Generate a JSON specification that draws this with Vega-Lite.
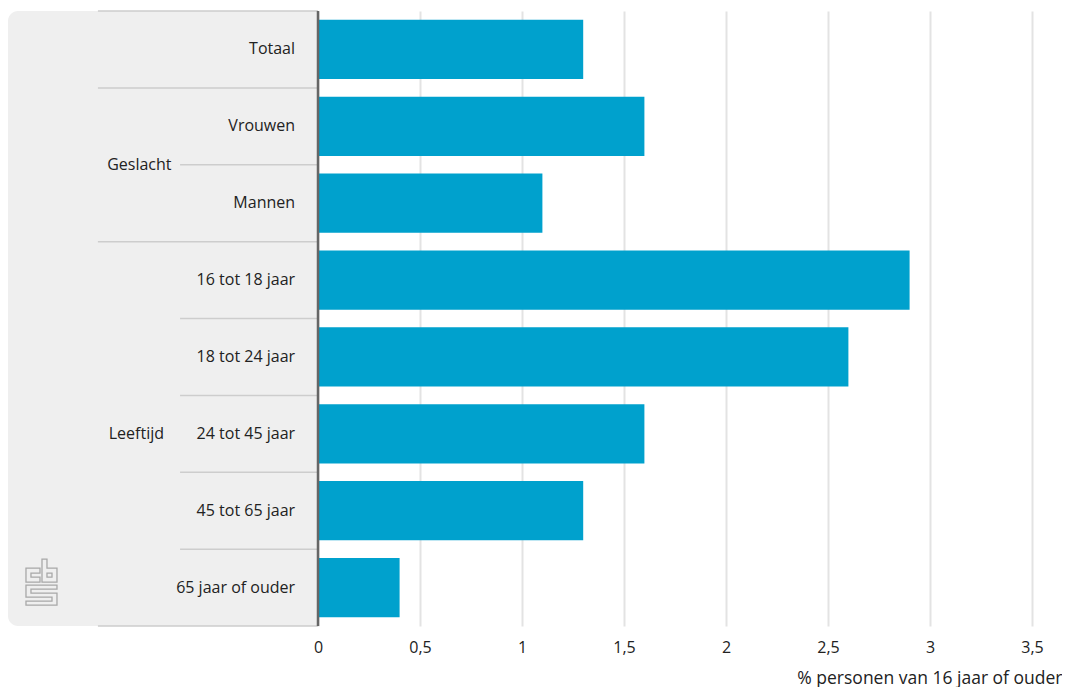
{
  "$schema": "https://vega.github.io/schema/vega-lite/v6.json",
  "autosize": {"type": "pad"},
  "bounds": "flush",
  "padding": {"left": 8, "top": 9, "right": 0, "bottom": 0},
  "config": {"view": {"stroke": null}, "font": "Open Sans", "text": {"font": "Open Sans"}},
  "datasets": {
    "rows": [
      {"group": "Totaal", "cat": "Totaal", "value": 1.3},
      {"group": "Geslacht", "cat": "Vrouwen", "value": 1.6},
      {"group": "Geslacht", "cat": "Mannen", "value": 1.1},
      {"group": "Leeftijd", "cat": "16 tot 18 jaar", "value": 2.9},
      {"group": "Leeftijd", "cat": "18 tot 24 jaar", "value": 2.6},
      {"group": "Leeftijd", "cat": "24 tot 45 jaar", "value": 1.6},
      {"group": "Leeftijd", "cat": "45 tot 65 jaar", "value": 1.3},
      {"group": "Leeftijd", "cat": "65 jaar of ouder", "value": 0.4}
    ]
  },
  "spacing": 0,
  "resolve": {"scale": {"y": "independent", "x": "independent"}},
  "hconcat": [
    {
      "width": 310,
      "height": 615,
      "data": {"name": "rows"},
      "transform": [{"window": [{"op": "row_number", "as": "rank"}], "groupby": ["group"]}],
      "layer": [
        {
          "data": {"values": [{}]},
          "mark": {"type": "rect", "fill": "#efefef", "cornerRadiusTopLeft": 10, "cornerRadiusBottomLeft": 10},
          "encoding": {
            "x": {"datum": 0, "type": "quantitative", "scale": {"domain": [0, 1], "nice": false, "zero": false}, "axis": null},
            "x2": {"datum": 1}
          }
        },
        {
          "transform": [{"filter": "datum.rank == 1"}],
          "mark": {"type": "rule", "color": "#cdcdcd", "strokeWidth": 1.5},
          "encoding": {
            "y": {"field": "cat", "type": "nominal", "bandPosition": 0, "sort": ["Totaal", "Vrouwen", "Mannen", "16 tot 18 jaar", "18 tot 24 jaar", "24 tot 45 jaar", "45 tot 65 jaar", "65 jaar of ouder"], "scale": {"paddingInner": 0, "paddingOuter": 0}, "axis": null},
            "x": {"datum": 0.29, "type": "quantitative"},
            "x2": {"datum": 1}
          }
        },
        {
          "transform": [{"filter": "datum.rank > 1"}],
          "mark": {"type": "rule", "color": "#cdcdcd", "strokeWidth": 1.5},
          "encoding": {
            "y": {"field": "cat", "type": "nominal", "bandPosition": 0, "sort": ["Totaal", "Vrouwen", "Mannen", "16 tot 18 jaar", "18 tot 24 jaar", "24 tot 45 jaar", "45 tot 65 jaar", "65 jaar of ouder"], "axis": null},
            "x": {"datum": 0.555, "type": "quantitative"},
            "x2": {"datum": 1}
          }
        },
        {
          "transform": [{"filter": "datum.cat == '65 jaar of ouder'"}],
          "mark": {"type": "rule", "color": "#cdcdcd", "strokeWidth": 1.5},
          "encoding": {
            "y": {"field": "cat", "type": "nominal", "bandPosition": 1, "sort": ["Totaal", "Vrouwen", "Mannen", "16 tot 18 jaar", "18 tot 24 jaar", "24 tot 45 jaar", "45 tot 65 jaar", "65 jaar of ouder"], "axis": null},
            "x": {"datum": 0.29, "type": "quantitative"},
            "x2": {"datum": 1}
          }
        },
        {
          "mark": {"type": "text", "align": "right", "baseline": "middle", "fontSize": 16, "color": "#222"},
          "encoding": {
            "y": {"field": "cat", "type": "nominal", "sort": ["Totaal", "Vrouwen", "Mannen", "16 tot 18 jaar", "18 tot 24 jaar", "24 tot 45 jaar", "45 tot 65 jaar", "65 jaar of ouder"], "axis": null},
            "x": {"datum": 0.926, "type": "quantitative"},
            "text": {"field": "cat"}
          }
        },
        {
          "transform": [{"filter": "datum.cat == 'Mannen'"}],
          "mark": {"type": "text", "align": "left", "baseline": "middle", "fontSize": 16, "color": "#222"},
          "encoding": {
            "y": {"field": "cat", "type": "nominal", "bandPosition": 0, "sort": ["Totaal", "Vrouwen", "Mannen", "16 tot 18 jaar", "18 tot 24 jaar", "24 tot 45 jaar", "45 tot 65 jaar", "65 jaar of ouder"], "axis": null},
            "x": {"datum": 0.32, "type": "quantitative"},
            "text": {"field": "group"}
          }
        },
        {
          "transform": [{"filter": "datum.cat == '24 tot 45 jaar'"}],
          "mark": {"type": "text", "align": "left", "baseline": "middle", "fontSize": 16, "color": "#222"},
          "encoding": {
            "y": {"field": "cat", "type": "nominal", "bandPosition": 0.5, "sort": ["Totaal", "Vrouwen", "Mannen", "16 tot 18 jaar", "18 tot 24 jaar", "24 tot 45 jaar", "45 tot 65 jaar", "65 jaar of ouder"], "axis": null},
            "x": {"datum": 0.325, "type": "quantitative"},
            "text": {"field": "group"}
          }
        },
        {
          "transform": [{"filter": "datum.cat == '65 jaar of ouder'"}],
          "mark": {
            "type": "point",
            "filled": false,
            "opacity": 1,
            "stroke": "#a8a8a8",
            "strokeWidth": 1.3,
            "size": 2116,
            "shape": "M-0.065,-0.609L-0.674,-0.609L-0.674,0L-0.065,0L-0.065,-0.217L-0.457,-0.217L-0.457,-0.391L-0.065,-0.391Z M0.022,-1L0.022,0L0.674,0L0.674,-0.609L0.239,-0.609L0.239,-1Z M0.239,-0.391L0.457,-0.391L0.457,-0.217L0.239,-0.217Z M0.674,0.13L-0.674,0.13L-0.674,0.652L0.457,0.652L0.457,0.826L-0.674,0.826L-0.674,1L0.674,1L0.674,0.478L-0.457,0.478L-0.457,0.304L0.674,0.304Z"
          },
          "encoding": {
            "y": {"field": "cat", "type": "nominal", "bandPosition": 0.43, "sort": ["Totaal", "Vrouwen", "Mannen", "16 tot 18 jaar", "18 tot 24 jaar", "24 tot 45 jaar", "45 tot 65 jaar", "65 jaar of ouder"], "axis": null},
            "x": {"datum": 0.108, "type": "quantitative"}
          }
        }
      ]
    },
    {
      "width": 714,
      "height": 615,
      "data": {"name": "rows"},
      "layer": [
        {
          "mark": {"type": "bar", "color": "#00a1cd"},
          "encoding": {
            "y": {"field": "cat", "type": "nominal", "sort": ["Totaal", "Vrouwen", "Mannen", "16 tot 18 jaar", "18 tot 24 jaar", "24 tot 45 jaar", "45 tot 65 jaar", "65 jaar of ouder"], "scale": {"paddingInner": 0.23, "paddingOuter": 0.115}, "axis": null},
            "x": {
              "field": "value",
              "type": "quantitative",
              "scale": {"domain": [0, 3.5], "nice": false},
              "axis": {
                "values": [0, 0.5, 1, 1.5, 2, 2.5, 3, 3.5],
                "labelExpr": "replace(format(datum.value, '~g'), '.', ',')",
                "domain": false,
                "ticks": false,
                "grid": true,
                "gridColor": "#e3e3e3",
                "gridWidth": 2,
                "labelFontSize": 16,
                "labelColor": "#222",
                "labelPadding": 13,
                "labelFlush": false,
                "title": "% personen van 16 jaar of ouder",
                "titleFontSize": 17.5,
                "titleFontWeight": "normal",
                "titleColor": "#222",
                "titleAlign": "right",
                "titleAnchor": "end",
                "titleBaseline": "alphabetic",
                "titleX": 744,
                "titleY": 57
              }
            }
          }
        },
        {
          "data": {"values": [{}]},
          "mark": {"type": "rule", "color": "#666666", "strokeWidth": 2.5},
          "encoding": {"x": {"datum": 0, "type": "quantitative"}}
        }
      ]
    }
  ]
}
